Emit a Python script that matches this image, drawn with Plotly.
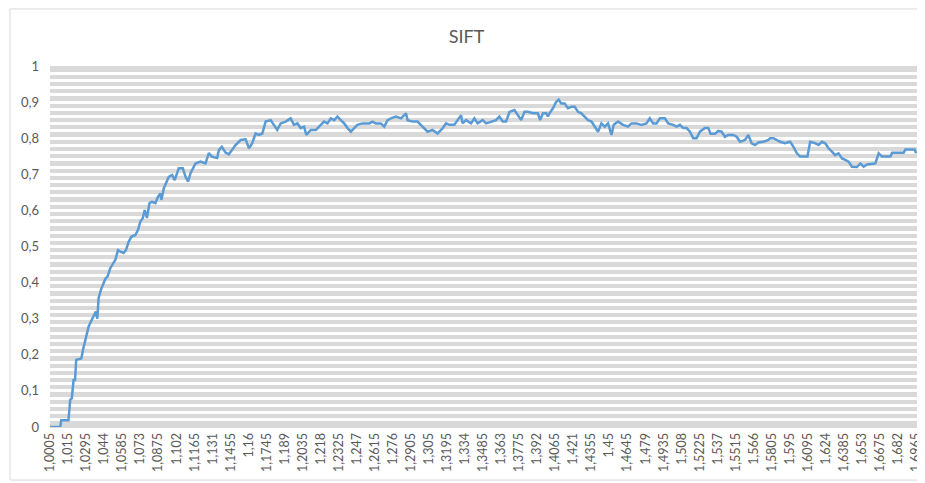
import plotly.graph_objects as go

title = "SIFT"

x_vals = [
    1.0005, 1.0086, 1.0094, 1.0152, 1.0166, 1.0179, 1.0193, 1.0205, 1.0214, 1.0255,
    1.0273, 1.0295, 1.0314, 1.0327, 1.0354, 1.0372, 1.0384, 1.0394, 1.0413, 1.0426,
    1.0448, 1.0467, 1.0488, 1.0529, 1.0550, 1.0569, 1.0595, 1.0614, 1.0636, 1.0658,
    1.0690, 1.0711, 1.0730, 1.0749, 1.0765, 1.0783, 1.0803, 1.0823, 1.0851, 1.0872,
    1.0891, 1.0899, 1.0918, 1.0936, 1.0958, 1.0985, 1.1006, 1.1039, 1.1071, 1.1093,
    1.1114, 1.1133, 1.1151, 1.1173, 1.1213, 1.1254, 1.1280, 1.1304, 1.1347, 1.1361,
    1.1385, 1.1415, 1.1441, 1.1495, 1.1536, 1.1576, 1.1603, 1.1629, 1.1656, 1.1683,
    1.1710, 1.1737, 1.1777, 1.1804, 1.1830, 1.1858, 1.1898, 1.1938, 1.1965, 1.1992,
    1.2019, 1.2046, 1.2064, 1.2100, 1.2140, 1.2167, 1.2207, 1.2234, 1.2261, 1.2288,
    1.2314, 1.2341, 1.2368, 1.2395, 1.2422, 1.2449, 1.2475, 1.2515, 1.2569, 1.2596,
    1.2623, 1.2663, 1.2690, 1.2717, 1.2744, 1.2784, 1.2825, 1.2865, 1.2878, 1.2918,
    1.2958, 1.2998, 1.3039, 1.3079, 1.3119, 1.3160, 1.3187, 1.3214, 1.3254, 1.3280,
    1.3308, 1.3320, 1.3348, 1.3388, 1.3415, 1.3441, 1.3482, 1.3509, 1.3549, 1.3589,
    1.3616, 1.3643, 1.3670, 1.3697, 1.3737, 1.3764, 1.3791, 1.3818, 1.3845, 1.3885,
    1.3925, 1.3944, 1.3966, 1.3993, 1.4006, 1.4019, 1.4046, 1.4073, 1.4092, 1.4113,
    1.4140, 1.4167, 1.4194, 1.4221, 1.4248, 1.4275, 1.4302, 1.4329, 1.4356, 1.4382,
    1.4409, 1.4436, 1.4463, 1.4489, 1.4517, 1.4535, 1.4570, 1.4610, 1.4650, 1.4678,
    1.4718, 1.4758, 1.4798, 1.4825, 1.4852, 1.4879, 1.4906, 1.4946, 1.4973, 1.5013,
    1.5040, 1.5067, 1.5094, 1.5121, 1.5148, 1.5174, 1.5201, 1.5228, 1.5268, 1.5295,
    1.5314, 1.5349, 1.5375, 1.5402, 1.5429, 1.5456, 1.5496, 1.5523, 1.5550, 1.5590,
    1.5617, 1.5644, 1.5671, 1.5698, 1.5738, 1.5778, 1.5792, 1.5819, 1.5846, 1.5872,
    1.5913, 1.5953, 1.5980, 1.6007, 1.6034, 1.6092, 1.6114, 1.6155, 1.6181, 1.6208,
    1.6235, 1.6262, 1.6289, 1.6315, 1.6342, 1.6370, 1.6396, 1.6423, 1.6450, 1.6490,
    1.6517, 1.6544, 1.6571, 1.6638, 1.6665, 1.6692, 1.6759, 1.6773, 1.6866, 1.6880,
    1.6955, 1.6965,
]

y_vals = [
    0.000, 0.000, 0.019, 0.019, 0.075, 0.080, 0.130, 0.130, 0.186, 0.190,
    0.220, 0.255, 0.278, 0.288, 0.310, 0.320, 0.300, 0.357, 0.380, 0.390,
    0.410, 0.417, 0.440, 0.463, 0.490, 0.486, 0.482, 0.490, 0.513, 0.527,
    0.532, 0.546, 0.569, 0.578, 0.601, 0.579, 0.620, 0.624, 0.620, 0.638,
    0.647, 0.629, 0.661, 0.675, 0.693, 0.698, 0.684, 0.717, 0.717, 0.693,
    0.680, 0.703, 0.717, 0.730, 0.735, 0.730, 0.759, 0.749, 0.745, 0.767,
    0.776, 0.760, 0.755, 0.781, 0.795, 0.797, 0.772, 0.786, 0.813, 0.809,
    0.813, 0.846, 0.850, 0.837, 0.823, 0.841, 0.846, 0.855, 0.837, 0.841,
    0.828, 0.832, 0.809, 0.823, 0.823, 0.832, 0.846, 0.841, 0.855, 0.850,
    0.860, 0.850, 0.841, 0.828, 0.818, 0.828, 0.837, 0.841, 0.841, 0.846,
    0.841, 0.841, 0.832, 0.850, 0.855, 0.860, 0.855, 0.869, 0.850, 0.846,
    0.846, 0.832, 0.818, 0.823, 0.813, 0.828, 0.841, 0.837, 0.837, 0.850,
    0.864, 0.841, 0.850, 0.841, 0.855, 0.841, 0.850, 0.841, 0.846, 0.850,
    0.860, 0.846, 0.846, 0.873, 0.878, 0.864, 0.850, 0.873, 0.873, 0.869,
    0.869, 0.850, 0.869, 0.869, 0.860, 0.869, 0.883, 0.901, 0.907, 0.896,
    0.896, 0.883, 0.887, 0.887, 0.873, 0.869, 0.860, 0.850, 0.846, 0.832,
    0.818, 0.841, 0.832, 0.841, 0.809, 0.837, 0.846, 0.837, 0.832, 0.841,
    0.841, 0.837, 0.841, 0.855, 0.841, 0.841, 0.855, 0.855, 0.841, 0.837,
    0.832, 0.837, 0.828, 0.828, 0.818, 0.800, 0.800, 0.818, 0.828, 0.828,
    0.812, 0.812, 0.820, 0.818, 0.804, 0.809, 0.809, 0.804, 0.790, 0.795,
    0.809, 0.786, 0.781, 0.788, 0.790, 0.795, 0.800, 0.800, 0.795, 0.790,
    0.786, 0.790, 0.776, 0.758, 0.749, 0.749, 0.790, 0.786, 0.781, 0.790,
    0.786, 0.772, 0.763, 0.753, 0.758, 0.744, 0.740, 0.735, 0.721, 0.720,
    0.730, 0.721, 0.727, 0.730, 0.758, 0.749, 0.749, 0.760, 0.760, 0.769,
    0.769, 0.758,
]

x_tick_vals = [
    1.0005, 1.015, 1.0295, 1.044, 1.0585, 1.073, 1.0875, 1.102, 1.1165, 1.131,
    1.1455, 1.16, 1.1745, 1.189, 1.2035, 1.218, 1.2325, 1.247, 1.2615, 1.276,
    1.2905, 1.305, 1.3195, 1.334, 1.3485, 1.363, 1.3775, 1.392, 1.4065, 1.421,
    1.4355, 1.45, 1.4645, 1.479, 1.4935, 1.508, 1.5225, 1.537, 1.5515, 1.566,
    1.5805, 1.595, 1.6095, 1.624, 1.6385, 1.653, 1.6675, 1.682, 1.6965,
]
x_tick_text = [("%g" % v).replace(".", ",") for v in x_tick_vals]

y_tick_vals = [0, 0.1, 0.2, 0.3, 0.4, 0.5, 0.6, 0.7, 0.8, 0.9, 1]
y_tick_text = ["0", "0,1", "0,2", "0,3", "0,4", "0,5", "0,6", "0,7", "0,8", "0,9", "1"]

FONT = "Lato, 'Open Sans', sans-serif"
TXT = "#595959"

fig = go.Figure()
fig.add_trace(go.Scatter(
    x=x_vals, y=y_vals, mode="lines",
    line=dict(color="#5B9BD5", width=2.5, shape="linear"),
    hoverinfo="x+y", showlegend=False,
))

fig.update_layout(
    width=917, height=475,
    margin=dict(l=42, r=5, t=58, b=56, autoexpand=False),
    paper_bgcolor="white",
    plot_bgcolor="#d9d9d9",
    title=dict(text=title, x=0.5, xanchor="center", y=0.939, yanchor="middle",
               font=dict(family=FONT, size=18, color=TXT)),
    font=dict(family=FONT, size=13, color=TXT),
    xaxis=dict(
        range=[1.00036, 1.6997], tickvals=x_tick_vals, ticktext=x_tick_text,
        tickangle=-90, showgrid=False, zeroline=False, showline=True,
        linecolor="#d9d9d9", linewidth=1, ticks="", automargin=False,
        ticklabeloverflow="allow",
        tickfont=dict(size=12.5, color=TXT),
    ),
    yaxis=dict(
        range=[0, 1], tickvals=y_tick_vals, ticktext=y_tick_text,
        showgrid=True, gridcolor="white", gridwidth=2.5, zeroline=False,
        showline=False, ticks="", ticklabelstandoff=10, automargin=False,
        tickfont=dict(size=13, color=TXT),
        minor=dict(tickvals=[i / 50 for i in range(51)], showgrid=True,
                   gridcolor="white", gridwidth=2.5),
    ),
    shapes=[dict(type="rect", xref="paper", yref="paper",
                 x0=-0.046, x1=1.004, y0=-0.147, y1=1.158,
                 line=dict(color="#d9d9d9", width=1), fillcolor="rgba(0,0,0,0)",
                 layer="below")],
)

fig.write_html("out.html")
